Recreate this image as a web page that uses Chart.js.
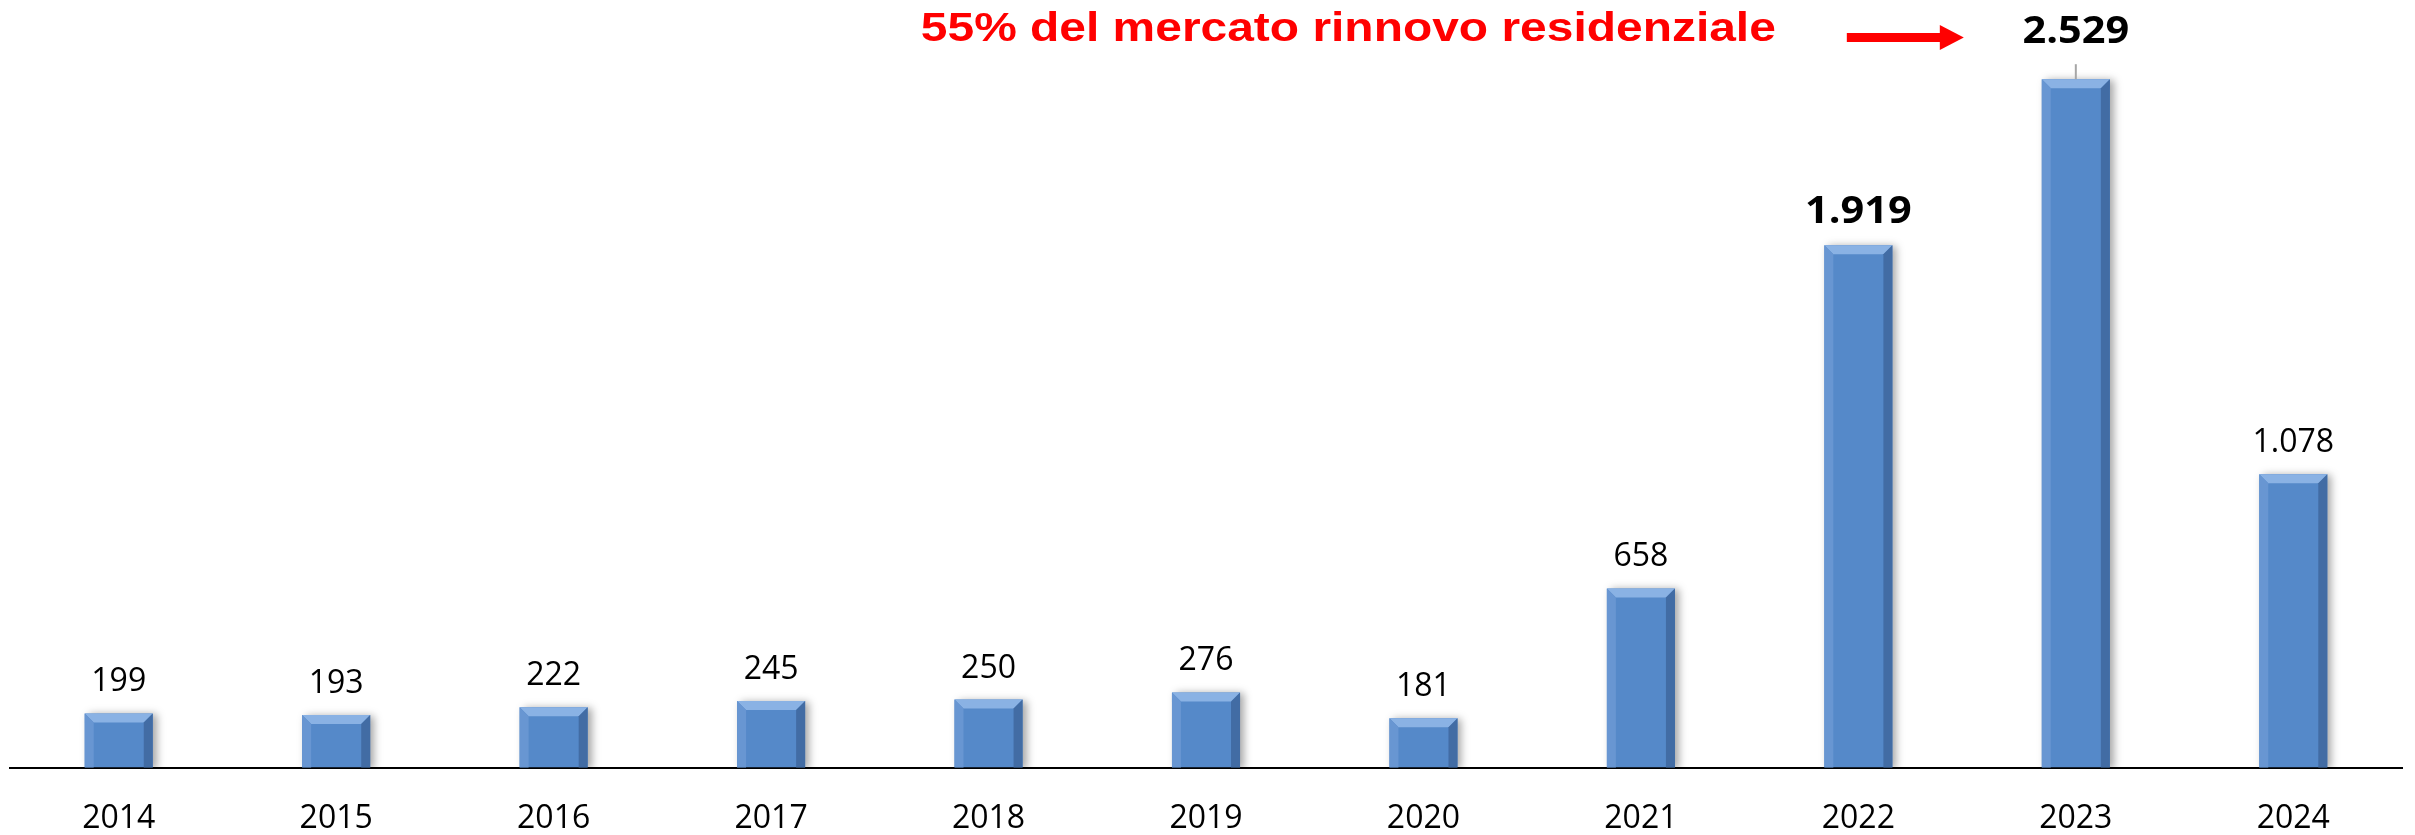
<!DOCTYPE html>
<html>
<head>
<meta charset="utf-8">
<script src="https://cdn.jsdelivr.net/npm/chart.js@4/dist/chart.umd.min.js"></script>
<style>
  html, body { margin: 0; padding: 0; background: #fff; }
  #wrap { width: 2415px; height: 835px; position: relative; }
</style>
</head>
<body>
<div id="wrap"><canvas id="chart"></canvas></div>
<script>
const years = ["2014", "2015", "2016", "2017", "2018", "2019", "2020", "2021", "2022", "2023", "2024"];
const values = [199, 193, 222, 245, 250, 276, 181, 658, 1919, 2529, 1078];
const boldYears = ["2022", "2023"];
const noteText = "55% del mercato rinnovo residenziale";

// 1919 -> "1.919"
function formatIt(v) {
    return String(v).replace(/\B(?=(\d{3})+(?!\d))/g, ".");
}

function shade(ctx, pts, color) {
    ctx.beginPath();
    ctx.moveTo(pts[0][0], pts[0][1]);
    pts.slice(1).forEach(p => ctx.lineTo(p[0], p[1]));
    ctx.closePath();
    ctx.fillStyle = color;
    ctx.fill();
}

const barShadow = {
    id: "barShadow",
    beforeDatasetDraw(chart) {
        const ctx = chart.ctx;
        ctx.save();
        ctx.shadowColor = "rgba(0, 0, 0, 0.35)";
        ctx.shadowBlur = 8;
        ctx.shadowOffsetX = 4;
        ctx.shadowOffsetY = 1;
    },
    afterDatasetDraw(chart) {
        chart.ctx.restore();
    }
};

// bevel edges on each bar
const bevel = {
    id: "bevel",
    afterDatasetsDraw(chart) {
        const ctx = chart.ctx;
        chart.getDatasetMeta(0).data.forEach(bar => {
            const l = bar.x - bar.width / 2, r = bar.x + bar.width / 2;
            const t = bar.y, btm = bar.base;
            const b = Math.min(9, (btm - t) / 2);
            ctx.save();
            shade(ctx, [[l, t], [r, t], [r - b, t + b], [l + b, t + b]], "rgb(138, 178, 228)");
            shade(ctx, [[l, t], [l + b, t + b], [l + b, btm], [l, btm]], "rgb(104, 150, 210)");
            shade(ctx, [[r, t], [r, btm], [r - b, btm], [r - b, t + b]], "rgb(66, 108, 164)");
            ctx.restore();
        });
    }
};

const labels = {
    id: "labels",
    afterDraw(chart) {
        const ctx = chart.ctx;
        const meta = chart.getDatasetMeta(0);
        const top = values.indexOf(Math.max(...values));
        ctx.save();
        ctx.fillStyle = "#000";
        ctx.textAlign = "center";
        ctx.textBaseline = "alphabetic";
        meta.data.forEach((bar, i) => {
            const txt = formatIt(values[i]);
            let y = bar.y - 22;
            if (i === top) {
                y = bar.y - 36;
                ctx.strokeStyle = "#a6a6a6";
                ctx.lineWidth = 2;
                ctx.beginPath();
                ctx.moveTo(bar.x, bar.y - 15);
                ctx.lineTo(bar.x, bar.y);
                ctx.stroke();
            }
            if (boldYears.includes(years[i])) {
                ctx.font = "bold 37px 'Open Sans'";
                ctx.save();
                ctx.translate(bar.x, y);
                ctx.scale(1.12, 1);
                ctx.fillText(txt, 0, 0);
                ctx.restore();
            } else {
                ctx.font = "32px 'Open Sans'";
                ctx.fillText(txt, bar.x, y);
            }
        });

        // red note with arrow pointing at the peak
        const peak = meta.data[top];
        ctx.fillStyle = "#ff0000";
        ctx.font = "bold 41px 'Liberation Sans'";
        const w = ctx.measureText(noteText).width;
        const right = peak.x - 300;
        ctx.save();
        ctx.translate(right, 41);
        ctx.scale(855 / w, 1);
        ctx.textAlign = "right";
        ctx.fillText(noteText, 0, 0);
        ctx.restore();

        const x0 = peak.x - 229, xHead = peak.x - 136, xTip = peak.x - 112, ay = 37.5;
        ctx.fillRect(x0, ay - 4.5, xHead - x0 + 1, 9);
        ctx.beginPath();
        ctx.moveTo(xHead, ay - 12.5);
        ctx.lineTo(xTip, ay);
        ctx.lineTo(xHead, ay + 12.5);
        ctx.closePath();
        ctx.fill();
        ctx.restore();
    }
};

new Chart(document.getElementById("chart"), {
    type: "bar",
    data: {
        labels: years,
        datasets: [{
            data: values,
            backgroundColor: "rgb(85, 137, 201)",
            borderWidth: 0,
            barPercentage: 0.313,
            categoryPercentage: 1
        }]
    },
    options: {
        responsive: true,
        maintainAspectRatio: false,
        animation: false,
        layout: { padding: { left: 10, right: 13, top: 0, bottom: -35 } },
        plugins: {
            legend: { display: false },
            tooltip: { enabled: false }
        },
        scales: {
            x: {
                grid: { display: false, drawTicks: false },
                border: { display: true, color: "#000", width: 2 },
                ticks: {
                    color: "#000",
                    padding: 32,
                    font: { family: "'Open Sans'", size: 32, lineHeight: 1.2 }
                }
            },
            y: {
                display: false,
                min: 0,
                max: 2820
            }
        }
    },
    plugins: [barShadow, bevel, labels]
});
</script>
</body>
</html>
